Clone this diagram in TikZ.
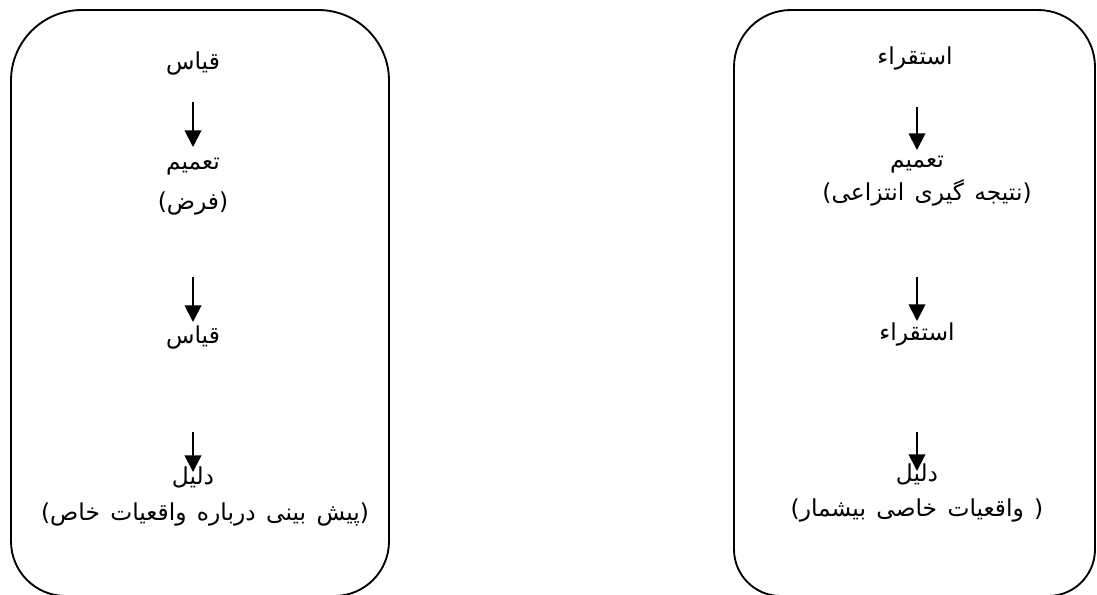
\documentclass[tikz,border=0pt]{standalone}
\usepackage{fontspec}
\usetikzlibrary{arrows.meta}
\TeXXeTstate=1
\newfontfamily\arfont[Script=Arabic,WordSpace=1.4]{DejaVu Sans}
\tikzset{
  boxline/.style={draw=black, line width=1.4pt},
  arr/.style={draw=black, line width=1.4pt, -{Triangle[width=12.5pt,length=12.5pt]}},
  lbl/.style={inner sep=0pt, font=\arfont\fontsize{17.5}{20}\selectfont, text=black}
}
\begin{document}
\begin{tikzpicture}[x=0.75pt,y=-0.75pt]
\useasboundingbox (0,0) rectangle (1097,594);
% left box
\draw[boxline] (11,300) [rounded corners=53pt] -- (11,10) -- (389,10) -- (389,300)
  [rounded corners=41pt] -- (389,596) -- (11,596) -- cycle;
% right box
\draw[boxline] (734,300) [rounded corners=42.75pt] -- (734,10) -- (1095,10) -- (1095,300)
  [rounded corners=35pt] -- (1095,596) -- (734,596) -- cycle;

% left column
\node[lbl] (l0) at (193,63) {\beginR قیاس\endR};
\node[lbl] (l1) at (193,167) {\beginR تعمیم\endR};
\node[lbl] (l1b) at (193,203) {\beginR(فرض)\endR};
\node[lbl] (l2) at (193,337) {\beginR قیاس\endR};
\node[lbl] (l3) at (193,477) {\beginR دلیل\endR};
\node[lbl] (l3b) at (205,514) {\beginR(پیش بینی درباره واقعیات خاص)\endR};
\coordinate (la1s) at (193,102);
\coordinate (la1e) at (193,147);
\coordinate (la2s) at (193,277);
\coordinate (la2e) at (193,322);
\coordinate (la3s) at (193,432);
\coordinate (la3e) at (193,472);
\draw[arr] (la1s) -- (la1e);
\draw[arr] (la2s) -- (la2e);
\draw[arr] (la3s) -- (la3e);

% right column
\node[lbl] (r0) at (915,58) {\beginR استقراء\endR};
\node[lbl] (r1) at (917,165) {\beginR تعمیم\endR};
\node[lbl] (r1b) at (927,193) {\beginR(نتیجه گیری انتزاعی)\endR};
\node[lbl] (r2) at (917,334) {\beginR استقراء\endR};
\node[lbl] (r3) at (917,474) {\beginR دلیل\endR};
\node[lbl] (r3b) at (917,510) {\beginR( واقعیات خاصی بیشمار)\endR};
\coordinate (ra1s) at (917,107);
\coordinate (ra1e) at (917,150);
\coordinate (ra2s) at (917,277);
\coordinate (ra2e) at (917,321);
\coordinate (ra3s) at (917,432);
\coordinate (ra3e) at (917,471);
\draw[arr] (ra1s) -- (ra1e);
\draw[arr] (ra2s) -- (ra2e);
\draw[arr] (ra3s) -- (ra3e);
\end{tikzpicture}
\end{document}
